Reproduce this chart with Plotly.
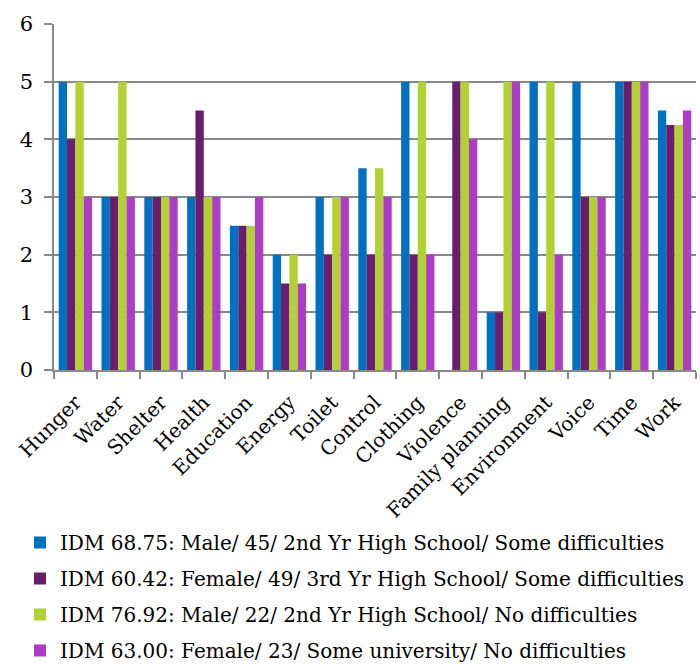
import plotly.graph_objects as go

categories = ["Hunger", "Water", "Shelter", "Health", "Education", "Energy", "Toilet",
              "Control", "Clothing", "Violence", "Family planning", "Environment",
              "Voice", "Time", "Work"]

series_names = [
    "IDM 68.75: Male/ 45/ 2nd Yr High School/ Some difficulties",
    "IDM 60.42: Female/ 49/ 3rd Yr High School/ Some difficulties",
    "IDM 76.92: Male/ 22/ 2nd Yr High School/ No difficulties",
    "IDM 63.00: Female/ 23/ Some university/ No difficulties",
]

idm_68_75 = [5, 3, 3, 3, 2.5, 2, 3, 3.5, 5, 0, 1, 5, 5, 5, 4.5]
idm_60_42 = [4, 3, 3, 4.5, 2.5, 1.5, 2, 2, 2, 5, 1, 1, 3, 5, 4.25]
idm_76_92 = [5, 5, 3, 3, 2.5, 2, 3, 3.5, 5, 5, 5, 5, 3, 5, 4.25]
idm_63_00 = [3, 3, 3, 3, 3, 1.5, 3, 3, 2, 4, 5, 2, 3, 5, 4.5]

series_values = [idm_68_75, idm_60_42, idm_76_92, idm_63_00]
colors = ["#0070C0", "#6B1D6E", "#B2D234", "#AD3CC6"]

font_family = "DejaVu Serif"

fig = go.Figure()
for i, (name, vals, col) in enumerate(zip(series_names, series_values, colors)):
    fig.add_trace(go.Bar(
        x=categories, y=vals, name=name,
        marker=dict(color=col, line=dict(width=0)),
        legendgroup=f"g{i}",
    ))

plot_top, plot_bottom = 24, 370
plot_h = plot_bottom - plot_top

fig.update_layout(
    width=700, height=664,
    margin=dict(l=54, r=4, t=plot_top, b=664 - plot_bottom, autoexpand=False),
    paper_bgcolor="white", plot_bgcolor="white",
    barmode="group", bargap=0.22, bargroupgap=0,
    font=dict(family=font_family, color="black"),
    showlegend=True,
    legend=dict(
        orientation="v",
        x=-0.053, xanchor="left",
        y=(plot_bottom - 523) / plot_h, yanchor="top",
        font=dict(size=20, family=font_family, color="black"),
        tracegroupgap=7, itemwidth=30, bgcolor="rgba(0,0,0,0)",
    ),
    xaxis=dict(
        showline=True, linecolor="#898989", linewidth=1.5,
        ticks="outside", ticklen=7, tickcolor="#898989", tickwidth=1.5,
        tickson="boundaries", tickangle=-45, ticklabelstandoff=11,
        tickfont=dict(size=20, family=font_family),
        showgrid=False, automargin=False,
    ),
    yaxis=dict(
        range=[0, 6], dtick=1, tick0=0,
        showline=True, linecolor="#898989", linewidth=1.5,
        ticks="outside", ticklen=8, tickcolor="#898989", tickwidth=1.5,
        showgrid=True, gridcolor="#898989", gridwidth=1.5,
        zeroline=False, automargin=False, ticklabelstandoff=7,
        tickfont=dict(size=21, family=font_family),
    ),
)

fig.write_html("out.html")
